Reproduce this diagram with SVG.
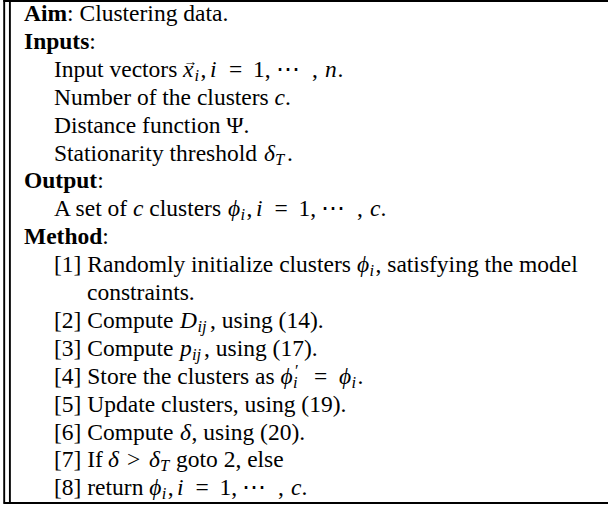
<svg xmlns="http://www.w3.org/2000/svg" width="608" height="506" viewBox="0 0 608 506">
<style>
text{font-family:"Liberation Serif","Times New Roman",serif;font-size:23.5px;fill:#000}
.b{font-weight:bold}
.m{font-style:italic}
.s{font-size:16.5px;font-style:italic}
.acc{font-size:14px}
.frame{stroke:#000;stroke-width:1.9;fill:none}
</style>
<rect width="608" height="506" fill="#fff"/>
<g id="frame">
<line class="frame" x1="3.3" y1="1" x2="608" y2="1"/>
<line class="frame" x1="4.2" y1="0" x2="4.2" y2="502.5"/>
<line class="frame" x1="9.9" y1="1" x2="9.9" y2="502.5"/>
<line class="frame" x1="3.3" y1="503" x2="608" y2="503" style="stroke-width:2.1"/>
</g>
<g id="aim"><text x="24" y="21"><tspan class="b">Aim</tspan>: Clustering data.</text></g>
<g id="inputs">
<text x="24" y="48.9"><tspan class="b">Inputs</tspan>:</text>
<text x="54" y="76.8">Input vectors <tspan class="m" x="183">x</tspan><tspan class="s" x="194.5" y="80.8">i</tspan><tspan x="200.5" y="76.8">,</tspan><tspan class="m" x="210">i</tspan><tspan x="229">=</tspan><tspan x="253">1,</tspan><tspan x="275.5">⋯</tspan><tspan x="312">,</tspan><tspan class="m" x="325">n</tspan><tspan x="337.5">.</tspan></text>
<text class="acc" x="190.5" y="65.5" text-anchor="middle">→</text>
<text x="54" y="104.7">Number of the clusters <tspan class="m">c</tspan>.</text>
<text x="54" y="132.6">Distance function Ψ.</text>
<text x="54" y="160.5">Stationarity threshold <tspan class="m" x="264">δ</tspan><tspan class="s" x="275" y="164.5">T</tspan><tspan x="287" y="160.5">.</tspan></text>
</g>
<g id="output">
<text x="24" y="188.4"><tspan class="b">Output</tspan>:</text>
<text x="54" y="216.3">A set of <tspan class="m">c</tspan> clusters <tspan class="m" x="228">ϕ</tspan><tspan class="s" x="240.5" y="220.3">i</tspan><tspan x="246.5" y="216.3">,</tspan><tspan class="m" x="256">i</tspan><tspan x="274.5">=</tspan><tspan x="298.5">1,</tspan><tspan x="320.5">⋯</tspan><tspan x="357">,</tspan><tspan class="m" x="370">c</tspan><tspan x="380.5">.</tspan></text>
</g>
<g id="method">
<text x="24" y="244.2"><tspan class="b">Method</tspan>:</text>
<text x="54" y="272.1">[1] Randomly initialize clusters <tspan class="m" x="357">ϕ</tspan><tspan class="s" x="369.5" y="276.1">i</tspan><tspan x="375.5" y="272.1">, satisfying the model</tspan></text>
<text x="87" y="300">constraints.</text>
<text x="54" y="327.9">[2] Compute <tspan class="m" x="180">D</tspan><tspan class="s" x="197.5" y="331.9">ij</tspan><tspan x="210" y="327.9">, using (14).</tspan></text>
<text x="54" y="355.8">[3] Compute <tspan class="m" x="180">p</tspan><tspan class="s" x="192" y="359.8">ij</tspan><tspan x="204" y="355.8">, using (17).</tspan></text>
<text x="54" y="383.7">[4] Store the clusters as <tspan class="m" x="280.5">ϕ</tspan><tspan class="s" x="294" y="376">′</tspan><tspan class="s" x="293" y="387.7">i</tspan><tspan x="314" y="383.7">=</tspan><tspan class="m" x="339">ϕ</tspan><tspan class="s" x="351.5" y="387.7">i</tspan><tspan x="357.5" y="383.7">.</tspan></text>
<text x="54" y="411.6">[5] Update clusters, using (19).</text>
<text x="54" y="439.5">[6] Compute <tspan class="m" x="180">δ</tspan><tspan x="191.5">, using (20).</tspan></text>
<text x="54" y="467.4">[7] If <tspan class="m" x="108">δ</tspan><tspan x="127">&gt;</tspan><tspan class="m" x="149">δ</tspan><tspan class="s" x="160" y="471.4">T</tspan><tspan x="176" y="467.4">goto 2, else</tspan></text>
<text x="54" y="495.3">[8] return <tspan class="m" x="149.3">ϕ</tspan><tspan class="s" x="161.8" y="499.3">i</tspan><tspan x="167.8" y="495.3">,</tspan><tspan class="m" x="177">i</tspan><tspan x="195.5">=</tspan><tspan x="219.5">1,</tspan><tspan x="241.5">⋯</tspan><tspan x="278">,</tspan><tspan class="m" x="291">c</tspan><tspan x="301.5">.</tspan></text>
</g>
</svg>
